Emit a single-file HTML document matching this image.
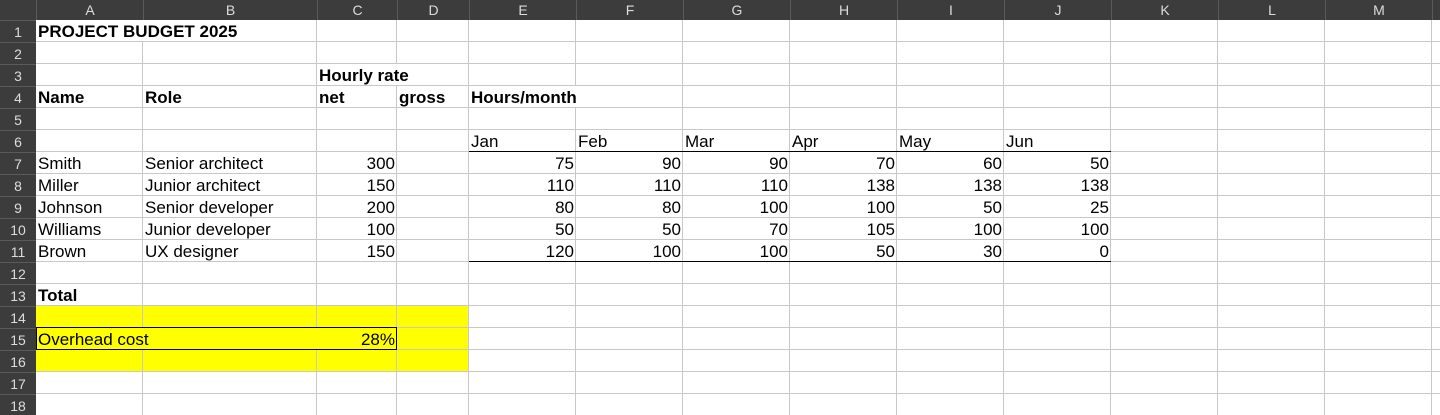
<!DOCTYPE html>
<html><head><meta charset="utf-8">
<style>
html,body{margin:0;padding:0;width:1440px;height:415px;overflow:hidden;background:#fff;font-family:"Liberation Sans",sans-serif;}
#sheet{position:relative;width:1440px;height:415px;overflow:hidden;}
.l{position:absolute;background:#c8c8c8;}
.h{position:absolute;background:#3c3c3c;color:#dcdcdc;font-size:14px;text-align:center;box-sizing:border-box;overflow:hidden;}
.c{position:absolute;font-size:17px;color:#000;line-height:22px;height:22px;white-space:nowrap;padding:1px 2px 0 2px;box-sizing:border-box;}
.b{font-weight:bold;}
.r{text-align:right;}
</style></head><body>
<div id="sheet"></div>
<script>
const colLetters=["A","B","C","D","E","F","G","H","I","J","K","L","M",""];
const xs=[36,143,317,397,469,576,683,790,897,1004,1111,1218,1325,1432,1539];
const rowCount=18;
const months=["Jan","Feb","Mar","Apr","May","Jun"];
const names=["Smith","Miller","Johnson","Williams","Brown"];
const roles=["Senior architect","Junior architect","Senior developer","Junior developer","UX designer"];
const rates=[300,150,200,100,150];
const hours=[[75,90,90,70,60,50],[110,110,110,138,138,138],[80,80,100,100,50,25],[50,50,70,105,100,100],[120,100,100,50,30,0]];
const S=document.getElementById('sheet');
const HH=20,RH=22,RW=36;
const ry=r=>HH+(r-1)*RH;
function box(cls,x,y,w,h,txt,bg){const d=document.createElement('div');d.className=cls;d.style.left=x+'px';d.style.top=y+'px';d.style.width=w+'px';d.style.height=h+'px';if(bg)d.style.background=bg;if(txt!==undefined)d.textContent=txt;S.appendChild(d);return d;}
const y1=box('l',36,ry(14),469-36,3*RH,undefined,'#ffff00');


for(let i=1;i<xs.length;i++){if(xs[i]>1440)continue;const g=box('l',xs[i]-1,HH,1,415-HH);}
for(let r=1;r<=rowCount;r++){const g=box('l',RW,ry(r)+RH-1,1440-RW,1);}
function mask(r,x,bg){const m=box('l',x-1,ry(r),1,RH-1,undefined,bg||'#fff');}
mask(1,143);mask(3,397);mask(4,576);mask(15,143,'#ffff00');mask(15,317,'#ffff00');
const corner=box('h',0,0,RW,HH);
for(let i=0;i<colLetters.length;i++){const x=xs[i],w=Math.min(xs[i+1],1440)-x;const d=box('h',x,0,w,HH,colLetters[i]);d.style.lineHeight=HH+'px';d.style.borderLeft='1px solid #5a5a5a';

}
for(let r=1;r<=rowCount;r++){const d=box('h',0,ry(r),RW,RH,String(r));d.style.lineHeight=RH+'px';d.style.borderTop='1px solid #5a5a5a';

}
function cell(col,r,txt,cls,name,span){const i=colLetters.indexOf(col);const x=xs[i];const w=(span?xs[i+span]:xs[i+1])-x;const d=box('c '+(cls||''),x,ry(r),w,RH,txt);

return d;}
cell('A',1,'PROJECT BUDGET 2025','b','title-cell',3);
cell('C',3,'Hourly rate','b','hourly-rate-header',2);
cell('A',4,'Name','b','name-header');
cell('B',4,'Role','b','role-header');
cell('C',4,'net','b','net-header');
cell('D',4,'gross','b','gross-header');
cell('E',4,'Hours/month','b','hours-month-header',2);
months.forEach((m,j)=>{cell(colLetters[4+j],6,m,'','month-'+m.toLowerCase());});
const bl=box('l',469,ry(6)+RH-1,1111-469,1,undefined,'#000');
names.forEach((n,k)=>{const r=7+k;
cell('A',r,n,'','name-'+n.toLowerCase());
cell('B',r,roles[k],'','role-'+n.toLowerCase());
cell('C',r,String(rates[k]),'r','rate-'+n.toLowerCase());
hours[k].forEach((h,j)=>{cell(colLetters[4+j],r,String(h),'r','hours-'+n.toLowerCase()+'-'+months[j].toLowerCase());});});
const bl2=box('l',469,ry(11)+RH-1,1111-469,1,undefined,'#000');
cell('A',13,'Total','b','total-label');
const ob=box('l',36,ry(15)-1,397-36,RH+1,undefined,'transparent');ob.style.border='1px solid #000';ob.style.boxSizing='border-box';


cell('A',15,'Overhead cost','','overhead-label',2);
cell('C',15,'28%','r','overhead-value');
</script>
</body></html>
